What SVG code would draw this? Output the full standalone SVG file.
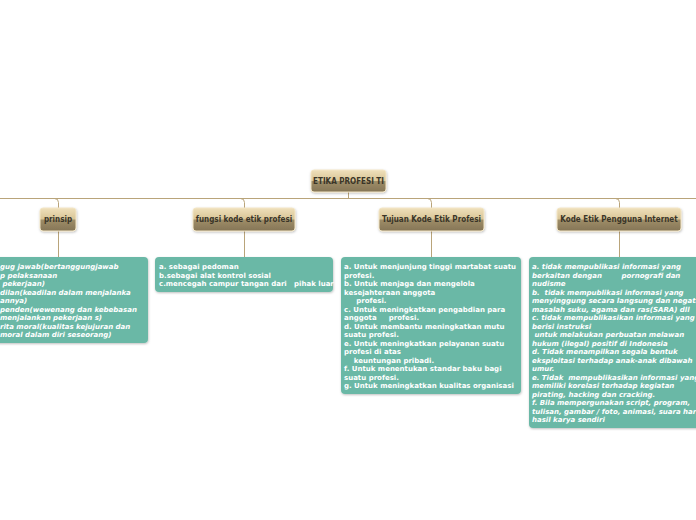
<svg xmlns="http://www.w3.org/2000/svg" width="696" height="520" viewBox="0 0 696 520">
<defs>
<linearGradient id="ng" x1="0" y1="0" x2="0" y2="1">
<stop offset="0" stop-color="#efe0bb"/>
<stop offset="0.48" stop-color="#d9c597"/>
<stop offset="0.52" stop-color="#9e8d68"/>
<stop offset="1" stop-color="#857556"/>
</linearGradient>
<filter id="sh" x="-10%" y="-10%" width="130%" height="140%">
<feDropShadow dx="0.5" dy="1" stdDeviation="0.8" flood-color="#000" flood-opacity="0.25"/>
</filter>
</defs>
<style>
text{white-space:pre}
.node rect{fill:url(#ng);stroke:#f3e6c6;stroke-width:1;filter:url(#sh)}
.node text{font-family:"DejaVu Sans Condensed","DejaVu Sans",sans-serif;font-weight:bold;font-size:8px;fill:#3a3528;text-anchor:middle}
.box rect{fill:#6bb8a6;filter:url(#sh)}
.box text{font-family:"DejaVu Sans",Verdana,sans-serif;font-weight:bold;font-size:7px;fill:#ffffff}
.it text{font-style:italic}
.conn path,.conn line{stroke:#b9a47a;stroke-width:1;fill:none}
</style>
<rect width="696" height="520" fill="#ffffff"/>
<g id="connectors" class="conn">
<line x1="0" y1="198.5" x2="696" y2="198.5"/>
<line x1="348.5" y1="192" x2="348.5" y2="198.5"/>
<path d="M54.5,198.5 Q58.5,198.5 58.5,202.5 V208"/>
<path d="M240.5,198.5 Q244.5,198.5 244.5,202.5 V208"/>
<path d="M427.5,198.5 Q431.5,198.5 431.5,202.5 V208"/>
<path d="M615.5,198.5 Q619.5,198.5 619.5,202.5 V208"/>
<line x1="58.5" y1="231" x2="58.5" y2="257"/>
<line x1="244.5" y1="231" x2="244.5" y2="257"/>
<line x1="431.5" y1="231" x2="431.5" y2="257"/>
<line x1="619.5" y1="231" x2="619.5" y2="257"/>
</g>
<g id="n-root" class="node">
<rect x="311" y="170" width="75" height="22" rx="3"/>
<text x="348.5" y="184">ETIKA PROFESI TI</text>
</g>
<g id="n-prinsip" class="node">
<rect x="40" y="208" width="36" height="23" rx="3"/>
<text x="58" y="222">prinsip</text>
</g>
<g id="n-fungsi" class="node">
<rect x="193" y="208" width="102" height="23" rx="3"/>
<text x="244" y="222">fungsi kode etik profesi</text>
</g>
<g id="n-tujuan" class="node">
<rect x="379" y="208" width="105" height="23" rx="3"/>
<text x="431.5" y="222">Tujuan Kode Etik Profesi</text>
</g>
<g id="n-kode" class="node">
<rect x="557" y="208" width="124" height="23" rx="3"/>
<text x="619" y="222">Kode Etik Pengguna Internet</text>
</g>
<g id="b-prinsip" class="box it">
<rect x="-6" y="257" width="154" height="86" rx="4"/>
<text x="0" y="269">gug jawab(bertanggungjawab</text>
<text x="0" y="277.5">p pelaksanaan</text>
<text x="0" y="286"> pekerjaan)</text>
<text x="0" y="294.5">dilan(keadilan dalam menjalanka</text>
<text x="0" y="303">annya)</text>
<text x="0" y="311.5">penden(wewenang dan kebebasan</text>
<text x="0" y="320">menjalankan pekerjaan s)</text>
<text x="0" y="328.5">rita moral(kualitas kejujuran dan</text>
<text x="0" y="337">moral dalam diri seseorang)</text>
</g>
<g id="b-fungsi" class="box">
<rect x="155" y="257" width="178" height="35" rx="4"/>
<text x="159" y="269">a. sebagai pedoman</text>
<text x="159" y="277.5">b.sebagai alat kontrol sosial</text>
<text x="159" y="286">c.mencegah campur tangan dari   pihak luar</text>
</g>
<g id="b-tujuan" class="box">
<rect x="341" y="257" width="180" height="137" rx="4"/>
<text x="344" y="269">a. Untuk menjunjung tinggi martabat suatu</text>
<text x="344" y="277.5">profesi.</text>
<text x="344" y="286">b. Untuk menjaga dan mengelola</text>
<text x="344" y="294.5">kesejahteraan anggota</text>
<text x="344" y="303">     profesi.</text>
<text x="344" y="311.5">c. Untuk meningkatkan pengabdian para</text>
<text x="344" y="320">anggota     profesi.</text>
<text x="344" y="328.5">d. Untuk membantu meningkatkan mutu</text>
<text x="344" y="337">suatu profesi.</text>
<text x="344" y="345.5">e. Untuk meningkatkan pelayanan suatu</text>
<text x="344" y="354">profesi di atas</text>
<text x="344" y="362.5">    keuntungan pribadi.</text>
<text x="344" y="371">f. Untuk menentukan standar baku bagi</text>
<text x="344" y="379.5">suatu profesi.</text>
<text x="344" y="388">g. Untuk meningkatkan kualitas organisasi</text>
</g>
<g id="b-kode" class="box it">
<rect x="529" y="257" width="180" height="171" rx="4"/>
<text x="532" y="269">a. tidak mempublikasi informasi yang</text>
<text x="532" y="277.5">berkaitan dengan        pornografi dan</text>
<text x="532" y="286">nudisme</text>
<text x="532" y="294.5">b.  tidak mempublikasi informasi yang</text>
<text x="532" y="303">menyinggung secara langsung dan negatif</text>
<text x="532" y="311.5">masalah suku, agama dan ras(SARA) dll</text>
<text x="532" y="320">c. tidak mempublikasikan informasi yang</text>
<text x="532" y="328.5">berisi instruksi</text>
<text x="532" y="337"> untuk melakukan perbuatan melawan</text>
<text x="532" y="345.5">hukum (ilegal) positif di Indonesia</text>
<text x="532" y="354">d. Tidak menampilkan segala bentuk</text>
<text x="532" y="362.5">eksploitasi terhadap anak-anak dibawah</text>
<text x="532" y="371">umur.</text>
<text x="532" y="379.5">e. Tidak  mempublikasikan informasi yang</text>
<text x="532" y="388">memiliki korelasi terhadap kegiatan</text>
<text x="532" y="396.5">pirating, hacking dan cracking.</text>
<text x="532" y="405">f. Bila mempergunakan script, program,</text>
<text x="532" y="413.5">tulisan, gambar / foto, animasi, suara har</text>
<text x="532" y="422">hasil karya sendiri</text>
</g>
</svg>
